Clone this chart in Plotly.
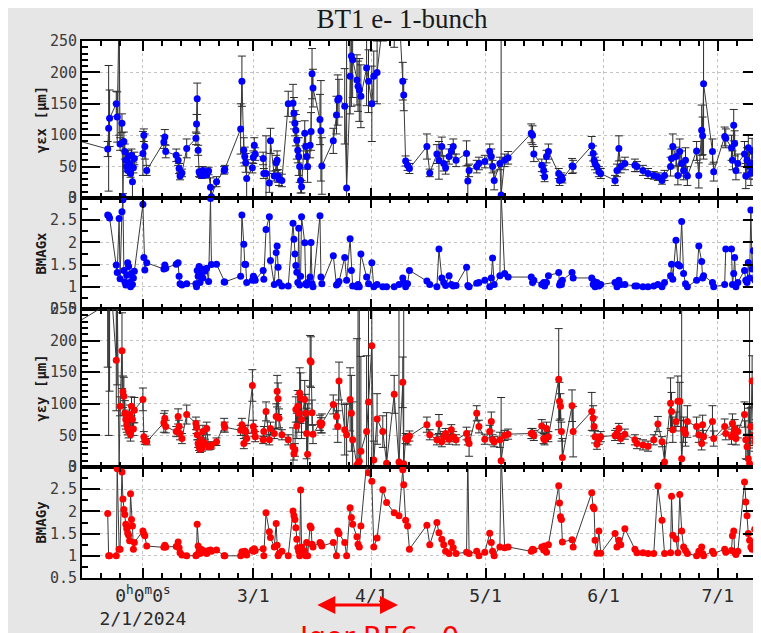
import plotly.graph_objects as go

# ---------------- data ----------------
dates = [
    # January
    "2024-01-08 00:00", "2024-01-22 18:00", "2024-01-23 00:00", "2024-01-23 06:00", "2024-01-25 00:00", "2024-01-25 06:00", "2024-01-25 18:00",
    "2024-01-26 00:00", "2024-01-26 12:00", "2024-01-26 18:00", "2024-01-27 00:00", "2024-01-27 06:00", "2024-01-27 12:00", "2024-01-27 18:00",
    "2024-01-28 00:00", "2024-01-28 06:00", "2024-01-28 12:00", "2024-01-28 18:00", "2024-01-29 00:00", "2024-01-29 06:00", "2024-01-29 12:00", "2024-01-29 18:00",
    # February
    "2024-02-01 00:00", "2024-02-01 06:00", "2024-02-01 12:00", "2024-02-02 00:00", "2024-02-06 12:00", "2024-02-06 18:00", "2024-02-07 00:00",
    "2024-02-09 18:00", "2024-02-10 06:00", "2024-02-10 12:00", "2024-02-10 18:00", "2024-02-11 06:00", "2024-02-12 12:00", "2024-02-14 22:00",
    "2024-02-15 02:00", "2024-02-15 06:00", "2024-02-15 12:00", "2024-02-15 18:00", "2024-02-16 00:00", "2024-02-16 06:00", "2024-02-16 12:00",
    "2024-02-16 18:00", "2024-02-17 06:00", "2024-02-17 18:00", "2024-02-18 06:00", "2024-02-18 18:00", "2024-02-19 00:00", "2024-02-20 08:00",
    "2024-02-22 08:00", "2024-02-22 12:00", "2024-02-26 16:00", "2024-02-27 00:00", "2024-02-27 12:00", "2024-02-27 18:00", "2024-02-28 00:00",
    "2024-02-28 06:00", "2024-02-29 18:00",
    # March
    "2024-03-01 00:00", "2024-03-01 06:00", "2024-03-01 12:00", "2024-03-03 14:00", "2024-03-03 18:00", "2024-03-04 08:00", "2024-03-05 05:00",
    "2024-03-05 12:00", "2024-03-06 12:00", "2024-03-07 00:00", "2024-03-07 06:00", "2024-03-07 12:00", "2024-03-07 18:00", "2024-03-08 12:00",
    "2024-03-10 04:00", "2024-03-11 10:00", "2024-03-11 16:00", "2024-03-11 22:00", "2024-03-12 04:00", "2024-03-12 10:00", "2024-03-12 16:00",
    "2024-03-12 22:00", "2024-03-13 04:00", "2024-03-13 10:00", "2024-03-13 16:00", "2024-03-14 12:00", "2024-03-14 18:00", "2024-03-15 00:00",
    "2024-03-15 06:00", "2024-03-15 22:00", "2024-03-16 04:00", "2024-03-16 10:00", "2024-03-16 16:00", "2024-03-18 12:00", "2024-03-18 18:00",
    "2024-03-19 00:00", "2024-03-22 00:00", "2024-03-22 20:00", "2024-03-23 04:00", "2024-03-23 12:00", "2024-03-25 00:00", "2024-03-25 12:00",
    "2024-03-26 10:00", "2024-03-26 18:00", "2024-03-27 02:00", "2024-03-28 05:00", "2024-03-28 12:00", "2024-03-28 20:00", "2024-03-29 06:00",
    "2024-03-30 18:00", "2024-03-31 06:00",
    # April
    "2024-04-01 03:00", "2024-04-01 15:00", "2024-04-02 12:00", "2024-04-04 00:00", "2024-04-05 00:00", "2024-04-07 00:00", "2024-04-08 06:00",
    "2024-04-09 06:00", "2024-04-09 12:00", "2024-04-10 00:00", "2024-04-10 12:00", "2024-04-11 00:00", "2024-04-15 14:00", "2024-04-16 08:00",
    "2024-04-18 05:00", "2024-04-18 18:00", "2024-04-19 12:00", "2024-04-20 00:00", "2024-04-20 12:00", "2024-04-21 10:00", "2024-04-22 00:00",
    "2024-04-22 12:00", "2024-04-23 06:00", "2024-04-26 00:00", "2024-04-26 08:00", "2024-04-26 16:00", "2024-04-28 16:00", "2024-04-29 06:00",
    "2024-04-30 19:00",
    # May
    "2024-05-02 02:00", "2024-05-02 12:00", "2024-05-02 20:00", "2024-05-03 06:00", "2024-05-04 18:00", "2024-05-05 02:00", "2024-05-06 00:00",
    "2024-05-06 22:00", "2024-05-13 00:00", "2024-05-13 08:00", "2024-05-13 16:00", "2024-05-15 18:00", "2024-05-16 06:00", "2024-05-16 12:00",
    "2024-05-17 00:00", "2024-05-17 12:00", "2024-05-20 05:00", "2024-05-20 10:00", "2024-05-20 16:00", "2024-05-20 22:00", "2024-05-21 04:00",
    "2024-05-23 17:00", "2024-05-24 00:00", "2024-05-28 21:00", "2024-05-29 06:00", "2024-05-29 12:00", "2024-05-29 18:00", "2024-05-30 06:00",
    "2024-05-30 18:00", "2024-05-31 06:00",
    # June / July
    "2024-06-04 00:00", "2024-06-04 12:00", "2024-06-05 00:00", "2024-06-05 12:00", "2024-06-06 14:00", "2024-06-09 05:00", "2024-06-09 18:00",
    "2024-06-11 08:00", "2024-06-12 16:00", "2024-06-14 04:00", "2024-06-15 06:00", "2024-06-16 08:00", "2024-06-17 00:00", "2024-06-18 14:00",
    "2024-06-18 20:00", "2024-06-19 04:00", "2024-06-20 00:00", "2024-06-20 12:00", "2024-06-21 00:00", "2024-06-21 12:00", "2024-06-22 00:00",
    "2024-06-22 12:00", "2024-06-23 00:00", "2024-06-25 10:00", "2024-06-26 00:00", "2024-06-26 18:00", "2024-06-27 00:00", "2024-06-27 06:00",
    "2024-06-29 14:00", "2024-06-29 22:00", "2024-07-02 19:00", "2024-07-03 02:00", "2024-07-04 14:00", "2024-07-04 20:00", "2024-07-05 04:00",
    "2024-07-05 10:00", "2024-07-05 18:00", "2024-07-06 06:00", "2024-07-08 00:00", "2024-07-08 08:00", "2024-07-08 16:00", "2024-07-09 00:00",
    "2024-07-09 08:00", "2024-07-09 16:00", "2024-07-10 00:00", "2024-07-10 08:00", "2024-07-10 16:00", "2024-07-11 00:00", "2024-07-11 12:00",
    "2024-07-12 00:00", "2024-07-13 00:00",
]

emit_x = [
    103, 78, 111, 127, 150, 129, 300, 86, 119, 2, 90, 74, 60, 50, 44, 66, 55, 39, 68, 26, 48, 63,
    71, 100, 82, 44, 89, 97, 74, 68, 60, 47, 35, 40, 79, 95, 118, 158, 76, 42, 38, 40, 36, 44, 40, 37, 43, 17, 2, 26,
    44, 46, 110, 186, 76, 66, 56, 31, 48,
    65, 84, 70, 63, 39, 39, 24, 91, 35, 56, 60, 35, 30, 28, 150, 151, 135, 119, 108, 92, 76, 66, 50, 28, 18, 103, 82, 66,
    50, 84, 106, 198, 175, 125, 107, 51, 91, 132, 156, 159, 146, 16, 194, 226, 220, 188, 178, 172, 162, 207, 186,
    150, 194, 200, 280, 290, 270, 300, 186, 164, 59, 52, 47, 82, 40, 70, 60, 82, 55, 48, 66, 75, 82, 60, 71, 27, 44,
    50, 55, 58,
    74, 66, 50, 28, 55, 5, 60, 64, 103, 100, 70, 52, 44, 34, 66, 74, 39, 28, 31, 34, 30, 51, 50, 83, 71, 60, 55, 50,
    42, 39,
    28, 44, 79, 50, 55, 52, 50, 44, 39, 36, 34, 28, 36, 50, 63, 82, 66, 36, 74, 55, 44, 60, 35, 75, 36, 108, 99, 182,
    74, 42, 98, 95, 80, 60, 116, 87, 44, 55, 70, 35, 60, 80, 50, 40, 75, 55, 45, 65, 50, 60, 55,
]
emit_x_err = [
    10, 12, 100, 45, 20, 40, 200, 10, 15, 5, 15, 12, 10, 8, 8, 10, 10, 6, 10, 25, 8, 10,
    35, 10, 20, 8, 10, 12, 10, 10, 8, 8, 6, 6, 15, 10, 15, 25, 8, 8, 5, 5, 5, 6, 6, 5, 6, 15, 15, 8,
    6, 6, 40, 40, 20, 15, 15, 30, 8,
    10, 12, 10, 10, 8, 60, 15, 20, 8, 12, 15, 10, 10, 10, 20, 30, 25, 20, 25, 30, 20, 30, 25, 20, 10, 20, 20, 20,
    25, 20, 30, 40, 30, 40, 80, 45, 20, 30, 40, 30, 60, 250, 60, 80, 60, 40, 40, 50, 50, 60, 50,
    60, 40, 50, 30, 30, 30, 30, 30, 25, 8, 8, 8, 20, 6, 15, 30, 15, 12, 10, 12, 10, 12, 10, 20, 25, 10,
    10, 10, 10,
    12, 12, 10, 15, 10, 250, 10, 10, 15, 15, 12, 10, 8, 8, 10, 12, 8, 8, 6, 6, 6, 12, 10, 15, 12, 10, 10, 10,
    8, 8,
    8, 10, 20, 10, 10, 10, 8, 8, 8, 6, 6, 6, 8, 15, 15, 20, 15, 15, 20, 20, 15, 20, 15, 15, 20, 40, 30, 120,
    20, 15, 15, 15, 20, 15, 25, 20, 15, 15, 20, 20, 20, 20, 20, 20, 20, 20, 15, 15, 15, 15, 15,
]
bmag_x = [
    None, 2.62, 2.60, 2.55, 1.49, 1.32, 2.54, 1.18, 2.69, 2.96, 1.37, 1.11, 1.04, 1.26, 1.54, 1.46, 1.10, 1.00, 1.30, 1.05, 1.20, 1.35,
    2.86, 1.66, 1.38, 1.54, 1.40, 1.49, 1.42, 1.51, 1.54, 1.24, 1.07, 1.04, 1.07, 1.07, 1.00, 1.37, 1.24, 1.46, 1.10, 1.30, 1.40, 1.20,
    1.35, 1.42, 1.12, 2.99, 1.50, 1.51, 1.11, 1.11, 1.24, 2.62, 1.96, 1.51, 1.50, 1.10, 1.15,
    1.24, 1.20, 1.15, 1.37, 1.17, 2.29, 2.58, 1.59, 1.05, 1.77, 1.92, 1.44, 1.10, 1.02, 1.02, 2.43, 2.07, 1.74, 1.48, 1.33, 1.10,
    2.32, 1.04, 1.24, 2.58, 1.99, 1.07, 1.04, 1.10, 1.22, 2.00, 1.07, 1.00, 2.60, 1.22, 1.07, 1.70, 1.04, 1.07, 1.12, 1.66, 1.15,
    2.08, 1.37, 1.02, 1.00, 1.05, 1.00, 1.74, 1.22, 1.07,
    1.54, 1.00, 1.05, 1.00, 1.00, 1.00, 1.05, 1.20, 1.10, 1.00, 1.07, 1.37, 1.13, 1.05, 1.00, 1.85, 1.20, 1.10, 1.03, 1.25, 1.05,
    1.02, 1.03, 1.44, 1.03, 1.00, 1.08, 1.10, 1.15,
    1.00, 1.20, 1.65, 1.05, 1.25, 3.10, 1.30, 1.22, 1.22, 1.10, 1.15, 1.05, 1.10, 1.02, 1.10, 1.25, 1.32, 1.04, 1.10, 1.05, 1.15,
    1.32, 1.20, 1.20, 1.05, 1.12, 1.00, 1.10, 1.02, 1.05,
    1.10, 1.00, 1.15, 1.05, 1.05, 1.02, 1.02, 1.00, 1.00, 1.02, 1.05, 1.00, 1.10, 1.25, 1.51, 1.17, 2.05, 1.50, 1.47, 2.47, 1.30,
    1.07, 1.00, 1.15, 1.92, 1.57, 1.20, 1.25, 1.10, 1.00, 1.05, 1.85, 1.85, 1.05, 1.30, 1.66, 1.00, 1.10, 1.37, 1.15, 1.10, 1.55,
    1.20, 2.73, 1.40, 1.81, 1.15, 1.25, 1.50, 1.10, 1.10,
]
emit_y = [
    204, 258, 300, 320, 169, 280, -3, 96, 184, 119, 112, 85, 75, 67, 61, 56, 83, 51, 96, 75, 60, 90,
    107, 48, 42, 40, 70, 77, 64, 56, 80, 64, 53, 45, 83, 69, 63, 51, 37, 32, 28, 43, 30, 56, 38, 61, 32, 33, 35, 40,
    67, 63, 58, 67, 37, 58, 56, 45, 129,
    64, 56, 48, 43, 56, 88, 43, 61, 53, 80, 120, 108, 77, 51, 43, 32, 21, 27, 91, 65, 96, 85, 117, 109, 75, 107, 85, 53,
    20, 168, 166, 86, 52, 70, 66, 69, 99, 80, 64, 136, 59, 51, 107, 85, 43, 3, 5, 9, 25, 56, 103,
    192, 11, 76, 56, 6, 115, 8, 134, 5, 45, 43, 49, 67, 51, 43, 68, 40, 48, 53, 44, 59, 48, 43, 53, 43, 37,
    85, 64, 44,
    56, 72, 43, 40, 43, 10, 50, 52, 53, 53, 50, 65, 45, 43, 61, 48, 139, 104, 96, 56, 15, 97, 56, 88, 77, 64, 48, 36,
    44, 48,
    50, 53, 61, 45, 52, 43, 37, 35, 33, 43, 68, 40, 8, 101, 88, 59, 72, 104, 104, 13, 59, 53, 72, 64, 51, 37, 67, 48,
    72, 45, 64, 53, 48, 69, 54, 60, 45, 56, 83, 43, 32, 13, 5, 64, 136, 50, 40, 60, 45, 55, 50,
]
emit_y_err = [
    20, 100, 250, 200, 80, 150, 5, 15, 60, 25, 30, 20, 15, 12, 10, 10, 15, 10, 15, 12, 10, 20,
    18, 8, 6, 5, 15, 12, 10, 8, 12, 10, 10, 8, 15, 10, 10, 8, 6, 6, 5, 8, 5, 10, 6, 10, 5, 5, 5, 6,
    10, 8, 8, 10, 8, 8, 10, 8, 25,
    10, 8, 8, 6, 8, 15, 8, 10, 8, 20, 25, 25, 15, 8, 8, 30, 10, 10, 20, 20, 25, 30, 40, 40, 30, 30, 30, 40,
    80, 40, 40, 20, 15, 12, 12, 15, 15, 20, 25, 30, 40, 50, 50, 60, 60, 200, 250, 250, 150, 120, 250,
    200, 30, 40, 25, 80, 30, 250, 40, 250, 8, 8, 8, 12, 8, 8, 15, 8, 8, 8, 8, 8, 8, 8, 10, 8, 20,
    12, 10, 8,
    10, 15, 8, 8, 12, 100, 8, 8, 8, 8, 8, 10, 8, 8, 10, 8, 80, 30, 20, 15, 30, 25, 40, 30, 20, 15, 10, 8,
    8, 8,
    8, 8, 8, 8, 8, 8, 8, 8, 8, 8, 12, 8, 30, 40, 30, 20, 15, 40, 30, 250, 20, 20, 25, 15, 12, 10, 15, 10,
    25, 12, 12, 10, 12, 15, 10, 15, 10, 10, 20, 30, 20, 80, 250, 30, 40, 20, 15, 15, 15, 15, 15,
]
bmag_y = [
    None, 1.95, 1.00, 1.00, 1.00, 2.96, 1.15, 1.15, 2.89, 2.28, 2.04, 1.93, 1.71, 1.61, 1.51, 1.46, 1.34, 2.40, 1.82, 1.67, 1.15, 1.30,
    1.56, 1.49, 1.45, 1.22, 1.19, 1.24, 1.20, 1.21, 1.31, 1.18, 1.07, 1.02, 1.00, 1.00, 1.02, 1.71, 1.22, 1.10, 1.05, 1.15, 1.08, 1.12,
    1.10, 1.05, 1.12, 1.13, 1.10, 1.13, 1.00, 1.00, 1.00, 1.09, 1.05, 1.10, 1.08, 1.02, 1.13,
    1.10, 1.16, 1.12, 1.16, 1.00, 1.97, 1.54, 1.41, 1.20, 1.73, 1.24, 1.00, 1.05, 1.10, 1.00, 2.01, 1.90, 1.82, 1.63, 1.37, 1.18,
    1.10, 1.00, 2.48, 1.20, 1.10, 1.00, 1.30, 1.00, 1.67, 1.63, 1.26, 1.20, 1.30, 1.27, 1.22, 1.30, 1.00, 1.56, 1.50, 1.30, 1.00,
    2.08, 1.86, 1.71, 1.43, 1.26, 1.20, 1.67, 3.09, 2.87,
    2.68, 1.20, 1.40, 2.49, 2.20, 1.97, 1.90, 2.94, 2.60, 1.80, 1.67, 1.15, 1.69, 1.25, 1.75, 1.52, 1.37, 1.25, 1.10, 1.05, 1.30,
    1.18, 1.05, 1.08, 3.30, 1.05, 1.10, 1.00, 1.08,
    1.51, 1.30, 1.10, 1.00, 1.20, 3.30, 1.18, 1.20, 1.10, 1.15, 1.13, 1.20, 1.13, 1.22, 1.08, 1.25, 2.58, 2.19, 1.88, 1.82, 1.31,
    1.36, 1.20, 2.42, 2.10, 2.06, 1.35, 1.06, 1.56, 1.06,
    1.50, 1.20, 1.35, 1.25, 1.61, 1.15, 1.07, 1.07, 1.05, 1.05, 2.57, 1.80, 1.05, 1.07, 2.34, 1.46, 1.38, 1.07, 2.38, 1.56, 1.20,
    1.12, 1.05, 1.00, 1.10, 1.20, 1.05, 1.00, 1.10, 1.05, 1.15, 1.08, 1.12, 1.45, 1.56, 1.08, 1.03, 1.10, 2.66, 2.21, 1.90, 1.50,
    1.35, 1.20, 1.15, 1.30, 1.60, 1.10, 1.40, 1.20, 1.10,
]

assert len(dates) == len(emit_x) == len(emit_x_err) == len(bmag_x) == len(emit_y) == len(emit_y_err) == len(bmag_y), \
    (len(dates), len(emit_x), len(emit_x_err), len(bmag_x), len(emit_y), len(emit_y_err), len(bmag_y))

month_ticks = ["2024-02-01", "2024-03-01", "2024-04-01", "2024-05-01", "2024-06-01", "2024-07-01"]
month_labels = ["0<sup>h</sup>0<sup>m</sup>0<sup>s</sup><br>2/1/2024", "3/1", "4/1", "5/1", "6/1", "7/1"]
y_titles = ["γεx [μm]", "BMAGx", "γεy [μm]", "BMAGy"]
title_text = "BT1 e- 1-bunch"
note_text = "Igor-R56~0"
note_start, note_end = "2024-03-17 10:00", "2024-04-08 00:00"

# ---------------- figure ----------------
# the page body adds an 8 px offset, so the figure is 753 x 625 and
# screen position = figure position + 8
OFF = 8
W, H = 761 - OFF, 633 - OFF
ML, MR, MT, MB = 82 - OFF, 0, 41 - OFF, 633 - 578
x_range = ["2024-01-16 00:00", "2024-07-12 08:00"]
minor_vals = [f"2024-{m:02d}-{d:02d}" for m in range(1, 8) for d in (6, 11, 16, 21, 26)]

domains = [[0.7076, 1.0], [0.5009, 0.7076], [0.2067, 0.5009], [0.0, 0.2067]]

fig = go.Figure()

line_style = dict(color="#3a3a3a", width=1)
err_style = dict(color="#2a2a2a", thickness=1, width=4)

series = [
    (emit_x, emit_x_err, "#0000ff"),
    (bmag_x, None, "#0000ff"),
    (emit_y, emit_y_err, "#ff0000"),
    (bmag_y, None, "#ff0000"),
]
for i, (vals, errs, col) in enumerate(series):
    ax = "" if i == 0 else str(i + 1)
    tr = dict(
        x=dates, y=vals, mode="lines+markers",
        line=line_style, marker=dict(color=col, size=7),
        xaxis="x" + ax, yaxis="y" + ax, showlegend=False, connectgaps=False,
    )
    if errs is not None:
        tr["error_y"] = dict(type="data", array=errs, visible=True, **err_style)
    fig.add_trace(go.Scatter(**tr))

tick_font = dict(family="DejaVu Sans Mono", size=15, color="#3c3c3c")
layout = dict(
    template="none",
    width=W, height=H,
    margin=dict(l=ML, r=MR, t=MT, b=MB, pad=0, autoexpand=False),
    paper_bgcolor="#e6e6e6", plot_bgcolor="#ffffff",
    title=dict(text=title_text, font=dict(family="Liberation Serif", size=27, color="#1a1a1a"),
               x=(402 - OFF) / W, xref="container", xanchor="center",
               y=1 - (19 - OFF) / H, yref="container", yanchor="middle"),
    showlegend=False,
)

for i in range(4):
    ax = "" if i == 0 else str(i + 1)
    xa = dict(
        type="date", range=x_range, domain=[0, 1], anchor="y" + ax, automargin=False,
        showline=True, linecolor="black", linewidth=2, mirror="allticks",
        ticks="inside", ticklen=10, tickwidth=2, tickcolor="black",
        tickmode="array", tickvals=month_ticks,
        showgrid=True, gridcolor="#c4c4c4", griddash="dot", gridwidth=1,
        minor=dict(tickmode="array", tickvals=minor_vals, ticks="inside", ticklen=5, tickwidth=1.5,
                   tickcolor="black", showgrid=False),
        zeroline=False,
    )
    if i > 0:
        xa["matches"] = "x"
    if i == 3:
        xa["ticktext"] = month_labels
        xa["showticklabels"] = True
        xa["tickfont"] = dict(family="DejaVu Sans Mono", size=18, color="#2a2a2a")
    else:
        xa["showticklabels"] = False
    layout["xaxis" + ax] = xa

    if i in (0, 2):
        rng, tv, tt, mdt = [0, 250], [0, 50, 100, 150, 200, 250], None, 10
    else:
        rng, tv, tt, mdt = [0.5, 3], [0.5, 1, 1.5, 2, 2.5, 3], ["0.5", "1", "1.5", "2", "2.5", "3"], 0.25
    ya = dict(
        range=rng, domain=domains[i], anchor="x" + ax, automargin=False,
        showline=True, linecolor="black", linewidth=2, mirror="allticks",
        ticks="inside", ticklen=18, tickwidth=2, tickcolor="black",
        tickmode="array", tickvals=tv, tickfont=tick_font,
        showgrid=True, gridcolor="#c4c4c4", griddash="dot", gridwidth=1,
        minor=dict(dtick=mdt, ticks="inside", ticklen=6, tickwidth=1.5, tickcolor="black", showgrid=False),
        zeroline=False,
        title=dict(text=y_titles[i], font=dict(family="DejaVu Sans Mono", size=14, color="#1a1a1a", weight="bold"),
                   standoff=0),
    )
    if tt is not None:
        ya["ticktext"] = tt
    layout["yaxis" + ax] = ya

fig.update_layout(**layout)

# red double arrow and note below the time axis (positions given in screen px)
plot_bottom = H - MB
plot_h = H - MT - MB
fig.add_annotation(
    x=note_end, ax=note_start, xref="x4", axref="x4",
    y=(plot_bottom - (605 - OFF)) / plot_h, yref="paper", ay=0, ayref="pixel",
    text="", showarrow=True, arrowhead=2, arrowside="end+start",
    arrowsize=1.2, arrowwidth=3, arrowcolor="#ff0000",
)
fig.add_annotation(
    x=(298 - 82) / (W - ML - MR), xref="paper", xanchor="left",
    y=(plot_bottom - (619 - OFF)) / plot_h, yref="paper", yanchor="top",
    text=note_text, showarrow=False,
    font=dict(family="DejaVu Sans", size=28, color="#ff0000"),
)

fig.write_html("out.html")
